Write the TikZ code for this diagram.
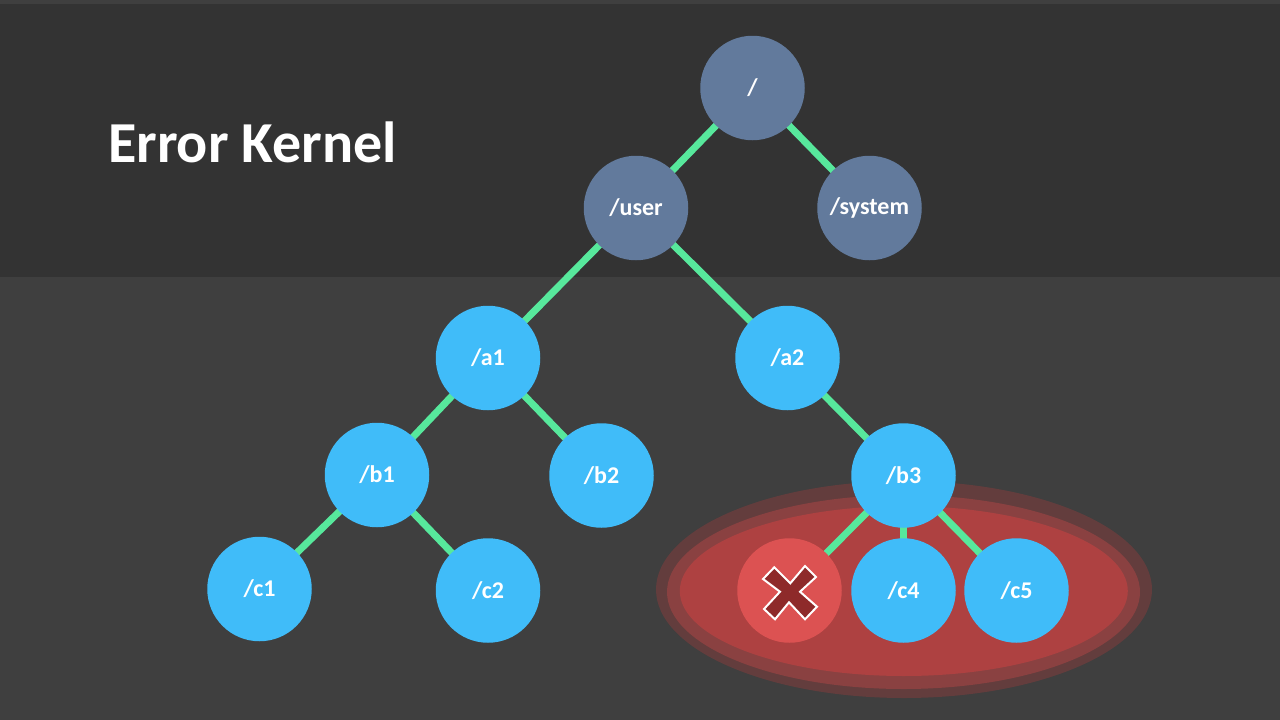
\documentclass[tikz,border=0pt]{standalone}
\usepackage{fontspec}
\setmainfont{Carlito}[BoldFont=Carlito Bold]
\usetikzlibrary{backgrounds}
\definecolor{bgmain}{HTML}{3F3F3F}
\definecolor{bgband}{HTML}{333333}
\definecolor{nodeblue}{HTML}{40BCF9}
\definecolor{nodegray}{HTML}{627A9C}
\definecolor{edgegreen}{HTML}{57E89C}
\definecolor{failred}{HTML}{DC5252}
\definecolor{crossred}{HTML}{8E2A2A}
\definecolor{haloa}{HTML}{633D3D}
\definecolor{halob}{HTML}{8A4141}
\definecolor{haloc}{HTML}{AE4141}
\tikzset{
  treenode/.style={circle,minimum size=104.5pt,inner sep=0pt,text=white,font=\bfseries\fontsize{24}{28}\selectfont},
  usernode/.style={treenode,fill=nodeblue},
  sysnode/.style={treenode,fill=nodegray},
  failnode/.style={treenode,fill=failred},
  edge/.style={draw=edgegreen,line width=7pt},
  cross/.style={fill=crossred,draw=white,line width=2pt,line join=miter},
  titletext/.style={text=white,font=\bfseries\fontsize{58}{66}\selectfont,inner sep=0pt}
}
\begin{document}
\begin{tikzpicture}[x=1pt,y=-1pt]
\useasboundingbox (0,0) rectangle (1280,720);
\node[sysnode] (root) at (752.5,88) {/};
\node[sysnode] (user) at (636,208) {/user};
\node[sysnode] (system) at (869.5,208) {/system};
\node[usernode] (a1) at (488,358) {/a1};
\node[usernode] (a2) at (787.5,358) {/a2};
\node[usernode] (b1) at (377,475) {/b1};
\node[usernode] (b2) at (601.5,475.5) {/b2};
\node[usernode] (b3) at (903.5,475.5) {/b3};
\node[usernode] (c1) at (259.5,589) {/c1};
\node[usernode] (c2) at (488,590.5) {/c2};
\node[failnode] (c3) at (789.5,590.5) {};
\node[usernode] (c4) at (903.5,590.5) {/c4};
\node[usernode] (c5) at (1016.5,590.5) {/c5};
\node[titletext] (title) at (252.5,142) {Error Kernel};
\draw[cross] (774.3,567.3) -- (790.3,583.3) -- (805,566) -- (816,577) -- (800,591.7) -- (817,606.7) -- (805,619.3) -- (789,602.3) -- (775,619.3) -- (764,609) -- (780,591.7) -- (763,579) -- cycle;
\begin{pgfonlayer}{background}
\fill[bgmain] (0,0) rectangle (1280,720);
\fill[bgband] (0,4) rectangle (1280,277);
\fill[haloa] (904,589.5) ellipse [x radius=248,y radius=108.5];
\fill[halob] (903.5,592) ellipse [x radius=236.5,y radius=97];
\fill[haloc] (903.8,591) ellipse [x radius=224,y radius=85];
\foreach \p/\q in {root/user,root/system,user/a1,user/a2,a1/b1,a1/b2,a2/b3,b1/c1,b1/c2,b3/c3,b3/c4,b3/c5}
  \draw[edge] (\p.center) -- (\q.center);
\end{pgfonlayer}
\end{tikzpicture}
\end{document}
